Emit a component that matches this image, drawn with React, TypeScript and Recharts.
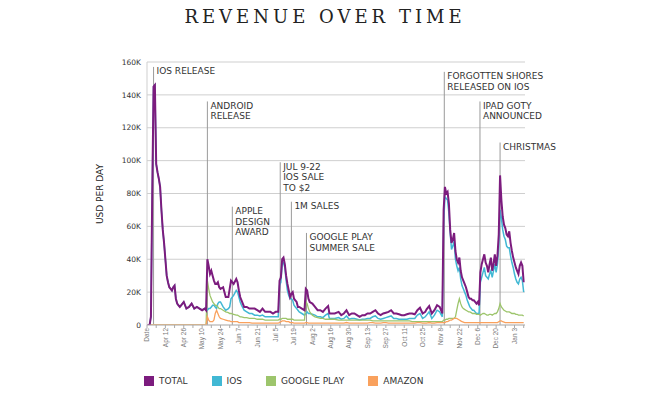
import React from 'react';
import { LineChart, Line, XAxis, YAxis, CartesianGrid, ReferenceLine } from 'recharts';

// x = days after Mar 29 (the sheet's first category is its "Date" header)
const days = [
  0, 2, 3, 4, 5, 6, 7, 8, 9, 10, 11, 12, 13, 14, 15, 16, 17, 18, 19, 20, 21, 22, 23, 24, 25, 26, 28, 30, 32, 34, 36, 38, 40, 42, 44, 45,
  46, 47, 48, 49, 50, 51, 52, 53, 54, 55, 56, 58, 60, 62, 63, 64, 66, 68, 69, 70, 71, 72, 74, 76, 78, 80, 82, 84, 86, 88, 90, 92, 94, 96, 98, 100,
  101, 102, 103, 104, 105, 106, 107, 108, 109, 110, 111, 112, 113, 114, 115, 116, 118, 120, 121, 122, 123, 124, 126, 128, 130, 132, 134, 136, 138, 139,
  141, 143, 146, 148, 150, 152, 154, 156, 158, 160, 162, 164, 166, 168, 170, 172, 174, 176, 178, 180, 182, 184, 186, 188, 190, 192, 194, 196, 198, 200,
  202, 204, 206, 208, 210, 212, 213, 215, 217, 219, 221, 223, 225,
  226, 227, 228, 229, 230, 231, 232, 233, 234, 235, 236, 237, 238, 239, 240, 241, 242, 243, 244, 245, 246, 247, 248, 249, 250, 251, 252, 253, 254, 255,
  256, 257, 258, 259, 260, 261, 262, 263, 264, 265, 266, 267, 268, 269, 270, 271, 272, 273, 274, 275, 276, 277, 278, 279, 280, 281, 282, 283, 284, 285,
  286, 287,
];

// revenue, thousands of USD per day
const total = [
  0, 0, 5, 80, 145, 146, 98, 93, 89, 84, 70, 58, 50, 40, 30, 26, 23, 22, 21, 23, 24, 16, 13, 12, 11, 12, 14, 10, 11, 13, 10, 11, 10, 9, 10, 9,
  40, 36, 31, 33, 30, 27, 25, 25, 26, 23, 22, 23, 17, 17, 22, 27, 25, 28, 26, 21, 17, 15, 11, 11, 10, 10, 10, 9, 8, 10, 8, 8, 8, 7, 8, 8,
  27, 29, 40, 41, 37, 30, 25, 21, 17, 19, 20, 16, 15, 14, 11, 11, 10, 9, 22, 21, 16, 14, 13, 11, 9, 9, 8, 10, 11.5, 7,
  7, 7, 8, 6, 7, 9, 6, 7, 7, 6, 5, 6, 6, 7, 7, 8, 9, 7, 6, 7, 7.5, 8, 9, 7, 7, 6.5, 6, 6, 6.5, 7,
  7, 6.5, 9, 10.5, 7, 8, 9.5, 11.5, 7, 9, 12, 11, 7,
  70, 84, 80, 81, 74, 58, 50, 52, 56, 45, 40, 38, 41, 33, 29, 27, 25, 23, 20, 17, 16, 16, 15, 15, 14, 13, 14, 12, 32, 37,
  40, 43, 38, 36, 32, 37, 41, 33, 37, 43, 36, 42, 55, 91, 76, 66, 61, 59, 55, 54, 57, 50, 45, 41, 38, 35, 33, 31, 36, 38,
  36, 26,
];

const ios = [
  0, 0, 5, 80, 145, 146, 98, 93, 89, 84, 70, 58, 50, 40, 30, 26, 23, 22, 21, 23, 24, 16, 13, 12, 11, 12, 14, 10, 11, 13, 10, 11, 10, 9, 10, 9,
  9, 10, 10, 11, 12, 12, 11, 10, 13, 14, 14, 11, 9, 10, 11, 16, 18, 21, 20, 17, 14, 12, 9, 8, 7, 7, 6, 6, 5.5, 6, 5, 5, 5, 5, 5, 5,
  24, 26, 37, 38, 35, 27, 21, 18, 16, 16, 15, 12, 11, 10, 9, 8, 7, 6, 7, 8, 7, 7, 6.5, 6, 5, 5, 4.5, 6, 7, 4,
  4, 4, 4.5, 3.5, 4, 5.5, 3.5, 4, 4, 3.5, 3, 3.5, 3.5, 4, 4, 5, 5.5, 4, 3.5, 4, 4.5, 5, 5.5, 4, 4, 3.5, 3.5, 3.5, 3.5, 4,
  4, 4, 6, 7, 4, 5, 6, 8, 4, 6, 9, 8, 5,
  62, 78, 77, 76, 68, 56, 46, 48, 51, 40, 36, 33, 35, 28, 24, 22, 20, 18, 15, 13, 11, 10, 9, 9, 8, 7, 7, 7, 26, 29,
  32, 35, 30, 29, 28, 31, 33, 29, 33, 37, 32, 37, 48, 70, 65, 58, 54, 52, 48, 47, 47, 42, 38, 35, 31, 28, 26, 25, 28, 29,
  27, 20,
];

const googlePlay = [
  0, 0, 0, 0, 0, 0, 0, 0, 0, 0, 0, 0, 0, 0, 0, 0, 0, 0, 0, 0, 0, 0, 0, 0, 0, 0, 0, 0, 0, 0, 0, 0, 0, 0, 0, 0,
  27, 22, 18, 16, 14, 13, 12, 12, 11, 10, 10, 9, 8, 7.5, 7, 7, 6.5, 6, 6, 5.5, 5, 5, 4.5, 4.5, 4, 4, 4, 3.5, 3.5, 3.5, 3, 3, 3, 3, 3, 3,
  3.5, 3.5, 4, 4, 4, 4, 3.5, 3.5, 3.5, 3.5, 3.5, 3, 3, 3, 3, 3, 3, 3, 14, 13, 10, 8, 6, 5, 4.5, 4, 4, 3.5, 3.5, 3.5,
  3.5, 3.5, 3, 3, 3, 3, 3, 3, 3, 3, 3, 3, 3, 3, 3, 2.5, 2.5, 2.5, 2.5, 2.5, 2.5, 2.5, 2.5, 2.5, 2.5, 2.5, 2.5, 2.5, 2.5, 2.5,
  2, 2, 2, 2, 2, 2, 2, 2, 2, 2, 2, 2, 2,
  3, 3, 3.5, 3.5, 4, 4, 4, 4, 4, 5, 9, 13, 16, 13, 11, 10, 9.5, 9, 8.5, 8, 8, 7.5, 7, 7, 7, 6.5, 6.5, 6.5, 6, 6.5,
  7, 7, 6.5, 6, 6, 6.5, 6.5, 6, 6.5, 7, 7, 8, 10, 13, 11, 10, 9, 8.5, 8, 8, 8, 7.5, 7, 7, 7, 6.5, 6.5, 6, 6, 6,
  6, 5.5,
];

const amazon = [
  0, 0, 0, 0, 0, 0, 0, 0, 0, 0, 0, 0, 0, 0, 0, 0, 0, 0, 0, 0, 0, 0, 0, 0, 0, 0, 0, 0, 0, 0, 0, 0, 0, 0, 0, 0,
  5, 3, 2, 2, 2, 3, 7, 9, 7, 5, 4, 3.5, 3, 2.5, 2.5, 2, 2, 2, 2, 1.5, 1.5, 1.5, 1.5, 1.5, 1.5, 1.2, 1.2, 1.2, 1.2, 1.2, 1.2, 1.2, 1.2, 1.2, 1.2, 1.2,
  1.5, 2, 2.5, 2.5, 2.5, 2, 2, 2, 1.5, 1.5, 1.5, 1.2, 1.2, 1.2, 1.2, 1.2, 1.2, 1.2, 1.5, 1.5, 1.2, 1.2, 1.2, 1.2, 1.2, 1.2, 1.2, 1.2, 1.2, 1.2,
  1.2, 1.2, 1.2, 1.2, 1.2, 1.5, 1.2, 1.2, 1.2, 1.2, 1.2, 1.2, 1.2, 1.2, 1.5, 1.5, 1.2, 1.2, 1.2, 1.5, 1.5, 1.2, 1.2, 1.2, 1.2, 1.2, 1.2, 1.2, 1.2, 1.2,
  1.2, 1.2, 1.5, 1.5, 1.2, 1.2, 1.2, 1.5, 1.2, 1.2, 1.5, 1.5, 1.5,
  1.5, 1.5, 2, 2, 2.5, 3, 3, 3.5, 4, 4, 4, 3.5, 3, 2.5, 2, 1.8, 1.5, 1.5, 1.5, 1.5, 1.5, 1.5, 1.5, 1.5, 1.5, 1.5, 1.5, 1.5, 1.5, 1.5,
  1.5, 1.5, 1.5, 1.5, 1.5, 1.5, 1.5, 1.5, 1.5, 1.5, 1.5, 1.5, 2, 2.5, 2.5, 2, 1.8, 1.5, 1.5, 1.5, 1.5, 1.5, 1.5, 1.5, 1.5, 1.5, 1.5, 1.5, 1.5, 1.5,
  1.5, 1.5,
];

const xTickDays = [0, 14, 28, 42, 56, 70, 84, 98, 112, 126, 140, 154, 168, 182, 196, 210, 224, 238, 252, 266, 280];
const xTickLabels = [
  'Date', 'Apr 12', 'Apr 26', 'May 10', 'May 24', 'Jun 7', 'Jun 21', 'Jul 5', 'Jul 19', 'Aug 2', 'Aug 16',
  'Aug 30', 'Sep 13', 'Sep 27', 'Oct 11', 'Oct 25', 'Nov 8', 'Nov 22', 'Dec 6', 'Dec 20', 'Jan 3',
];
const yTicks = [0, 20, 40, 60, 80, 100, 120, 140, 160];

// events: day, how high the marker line reaches (thousands USD), caption lines
const events = [
  { day: 5, reach: 157, lines: ['IOS RELEASE'] },
  { day: 46, reach: 136, lines: ['ANDROID', 'RELEASE'] },
  { day: 65, reach: 72, lines: ['APPLE', 'DESIGN', 'AWARD'] },
  { day: 101.5, reach: 99, lines: ['JUL 9-22', 'IOS SALE', 'TO $2'] },
  { day: 110, reach: 75, lines: ['1M SALES'] },
  { day: 121.5, reach: 56, lines: ['GOOGLE PLAY', 'SUMMER SALE'] },
  { day: 226.5, reach: 154, lines: ['FORGOTTEN SHORES', 'RELEASED ON IOS'] },
  { day: 253.7, reach: 136, lines: ['IPAD GOTY', 'ANNOUNCED'] },
  { day: 269, reach: 111, lines: ['CHRISTMAS'] },
];

const series = [
  { key: 'ios', label: 'IOS', color: '#41b8d4', width: 1.5 },
  { key: 'googlePlay', label: 'GOOGLE PLAY', color: '#9dc56c', width: 1.3 },
  { key: 'amazon', label: 'AMAZON', color: '#f9a15d', width: 1.3 },
  { key: 'total', label: 'TOTAL', color: '#7c1c7e', width: 2 },
];
const legendOrder = ['total', 'ios', 'googlePlay', 'amazon'];

const data = days.map((day, i) => ({
  day,
  total: total[i],
  ios: ios[i],
  googlePlay: googlePlay[i],
  amazon: amazon[i],
}));

const SANS = "'DejaVu Sans', sans-serif";

const DateTick = ({ x, y, payload }: any) => {
  const idx = xTickDays.indexOf(payload.value);
  if (idx < 0) return null;
  return (
    <text
      x={x}
      y={y}
      dy="0.35em"
      transform={`rotate(-90, ${x}, ${y})`}
      textAnchor="end"
      fontSize={6.5}
      fill="#7a7a7a"
      fontFamily="'Liberation Sans Narrow', 'Liberation Sans', sans-serif"
    >
      {xTickLabels[idx]}
    </text>
  );
};

const EventNote = ({ viewBox, lines }: any) => {
  if (!viewBox) return null;
  const x = viewBox.x + 3;
  return (
    <text x={x} y={viewBox.y + 7.5} fontSize={9} fill="#333" fontFamily={SANS}>
      {lines.map((l: string, i: number) => (
        <tspan key={i} x={x} dy={i === 0 ? 0 : 10.5}>{l}</tspan>
      ))}
    </text>
  );
};

// all 7-day marks get a tick line, every other one a label
const allTicks = xTickDays.flatMap((d) => (d + 7 <= 288 ? [d, d + 7] : [d]));

const App: React.FC = () => {
  return (
    <div style={{ position: 'absolute', left: 0, top: 0, width: 646, height: 398, background: '#fff' }}>
      <div
        style={{
          position: 'absolute', top: 8, left: 0, width: 646, textAlign: 'center',
          fontFamily: "'DejaVu Serif', serif", fontSize: 18, lineHeight: '18px', letterSpacing: 4,
          paddingLeft: 4, boxSizing: 'border-box', color: '#222',
        }}
      >
        REVENUE OVER TIME
      </div>

      <LineChart width={646} height={398} data={data} margin={{ top: 62, right: 121, bottom: 0, left: 0 }}>
        <CartesianGrid vertical={false} stroke="#cfcfcf" />
        <XAxis
          type="number"
          dataKey="day"
          domain={[0, 288]}
          ticks={allTicks}
          interval={0}
          height={73}
          tick={<DateTick />}
          tickSize={3}
          tickMargin={0}
          tickLine={{ stroke: '#aaa' }}
          axisLine={{ stroke: '#bbb' }}
          allowDataOverflow
        />
        <YAxis
          width={147}
          domain={[0, 160]}
          ticks={yTicks}
          interval={0}
          tickFormatter={(v: number) => (v === 0 ? '0' : `${v}K`)}
          tick={{ fontSize: 7.5, fill: '#333', fontFamily: SANS }}
          tickLine={false}
          tickSize={0}
          tickMargin={6}
          axisLine={{ stroke: '#cfcfcf' }}
          allowDataOverflow
        />
        {events.map((e) => (
          <ReferenceLine
            key={e.day}
            segment={[{ x: e.day, y: e.reach }, { x: e.day, y: 0 }]}
            stroke="#9a9a9a"
            strokeWidth={1}
            label={<EventNote lines={e.lines} />}
          />
        ))}
        {series.map((s) => (
          <Line
            key={s.key}
            type="linear"
            dataKey={s.key}
            stroke={s.color}
            strokeWidth={s.width}
            dot={false}
            activeDot={false}
            isAnimationActive={false}
          />
        ))}
      </LineChart>

      <div
        style={{
          position: 'absolute', left: 100, top: 193.5, transform: 'translate(-50%, -50%) rotate(-90deg)',
          whiteSpace: 'nowrap', fontFamily: SANS, fontSize: 9, color: '#222',
        }}
      >
        USD PER DAY
      </div>

      <div
        style={{
          position: 'absolute', left: 144, top: 376, display: 'flex', alignItems: 'center', gap: 24,
          fontFamily: SANS, fontSize: 9, color: '#333',
        }}
      >
        {legendOrder.map((k) => {
          const s = series.find((x) => x.key === k)!;
          return (
            <div key={k} style={{ display: 'flex', alignItems: 'center', gap: 5 }}>
              <span style={{ width: 10, height: 10, background: s.color, display: 'inline-block' }} />
              <span>{s.label}</span>
            </div>
          );
        })}
      </div>
    </div>
  );
};

export default App;
